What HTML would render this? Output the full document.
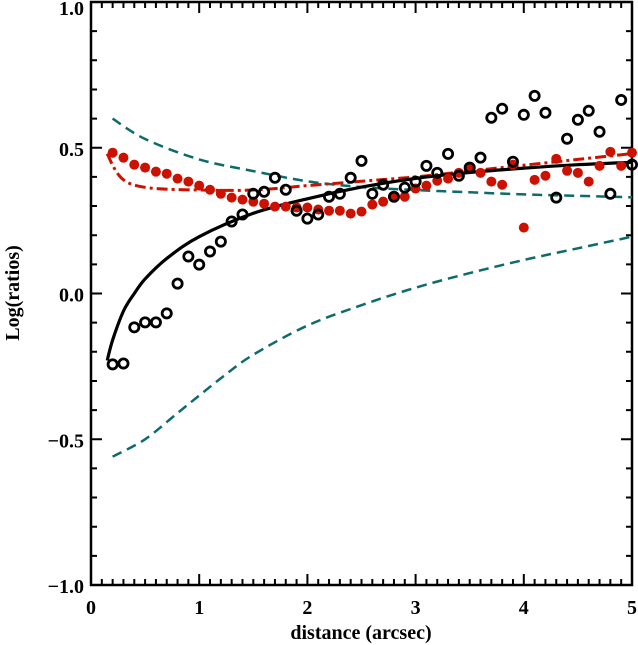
<!DOCTYPE html>
<html><head><meta charset="utf-8"><style>
body{margin:0;background:#fff}
svg{display:block}
text{font-family:"Liberation Serif",serif;font-size:20px;font-weight:bold;fill:#000}
</style></head><body>
<svg id="chart" width="638" height="645" xmlns="http://www.w3.org/2000/svg">
<g id="axes"></g>
<g id="series"></g>
<text x="361" y="639" text-anchor="middle">distance (arcsec)</text>
<text transform="translate(19,293) rotate(-90)" text-anchor="middle">Log(ratios)</text>
</svg>
<script>
const xTicks=[0,1,2,3,4,5];
const yTicks=[-1.0,-0.5,0.0,0.5,1.0];
const yTickLabels=["\u22121.0","\u22120.5","0.0","0.5","1.0"];
const pointX=[0.2,0.3,0.4,0.5,0.6,0.7,0.8,0.9,1.0,1.1,1.2,1.3,1.4,1.5,1.6,1.7,1.8,1.9,2.0,2.1,2.2,2.3,2.4,2.5,2.6,2.7,2.8,2.9,3.0,3.1,3.2,3.3,3.4,3.5,3.6,3.7,3.8,3.9,4.0,4.1,4.2,4.3,4.4,4.5,4.6,4.7,4.8,4.9,5.0];
const blackObs=[-0.243,-0.240,-0.116,-0.099,-0.099,-0.068,0.034,0.127,0.099,0.144,0.178,0.247,0.271,0.342,0.349,0.397,0.356,0.284,0.257,0.271,0.332,0.342,0.397,0.455,0.342,0.373,0.332,0.363,0.384,0.438,0.414,0.479,0.404,0.432,0.466,0.603,0.634,0.452,0.613,0.678,0.620,0.329,0.531,0.596,0.627,0.555,0.342,0.664,0.442];
const redObs=[0.483,0.466,0.442,0.432,0.418,0.411,0.394,0.384,0.370,0.356,0.342,0.329,0.322,0.315,0.308,0.298,0.298,0.295,0.295,0.288,0.284,0.284,0.274,0.281,0.305,0.315,0.332,0.332,0.360,0.370,0.387,0.394,0.414,0.428,0.414,0.384,0.373,0.442,0.226,0.390,0.404,0.462,0.421,0.414,0.384,0.438,0.486,0.438,0.483];
const fitX=[0.15,0.2,0.3,0.4,0.5,0.7,1.0,1.5,2.0,2.5,3.0,3.5,4.0,4.5,5.0];
const fitY=[-0.23,-0.16,-0.06,0.0,0.05,0.12,0.195,0.275,0.325,0.365,0.395,0.415,0.43,0.442,0.45];
const redFitX=[0.15,0.2,0.25,0.3,0.4,0.6,1.0,1.5,2.0,2.5,3.0,3.5,4.0,4.5,5.0];
const redFitY=[0.48,0.44,0.41,0.39,0.372,0.36,0.355,0.355,0.37,0.385,0.40,0.42,0.44,0.46,0.48];
const upX=[0.2,0.5,1.0,1.5,2.0,2.5,3.0,3.5,4.0,4.5,5.0];
const upY=[0.60,0.53,0.46,0.42,0.385,0.365,0.355,0.347,0.34,0.335,0.33];
const loX=[0.2,0.5,0.8,1.0,1.22,1.5,2.0,2.5,3.0,3.5,4.0,4.5,5.0];
const loY=[-0.56,-0.5,-0.41,-0.35,-0.285,-0.21,-0.11,-0.04,0.02,0.07,0.115,0.155,0.195];

const X0=91,X1=632,Y0=585,Y1=2;
const sx=v=>X0+(X1-X0)*v/5;
const sy=v=>Y0-(Y0-Y1)*(v+1)/2;
const NS='http://www.w3.org/2000/svg';
const axes=document.getElementById('axes'),ser=document.getElementById('series');
function mk(tag,attrs,parent){const e=document.createElementNS(NS,tag);for(const k in attrs)e.setAttribute(k,attrs[k]);parent.appendChild(e);return e;}
let fr=mk('rect',{x:X0,y:Y1,width:X1-X0,height:Y0-Y1,fill:'none',stroke:'#000','stroke-width':2.5},axes);


let td='';
for(let i=0;i<=50;i++){const x=sx(i/10);const L=i%10===0?11:6;td+=`M${x},${Y0}v${-L}M${x},${Y1}v${L}`;}
for(let i=0;i<=20;i++){const y=sy(-1+i/10);const L=i%5===0?11:6;td+=`M${X0},${y}h${L}M${X1},${y}h${-L}`;}
let tk=mk('path',{d:td,stroke:'#000','stroke-width':2,fill:'none'},axes);


xTicks.forEach(v=>{const t=mk('text',{x:sx(v),y:614,'text-anchor':'middle'},axes);t.textContent=String(v);

});
yTicks.forEach((v,i)=>{const t=mk('text',{x:84,y:Math.max(sy(v)+8,15),'text-anchor':'end'},axes);t.textContent=yTickLabels[i];

});
function line(xs,ys,attrs,name){
const P=xs.map((x,i)=>[sx(x),sy(ys[i])]);
let d='M'+P[0][0].toFixed(1)+','+P[0][1].toFixed(1);
for(let i=0;i<P.length-1;i++){const p0=P[Math.max(i-1,0)],p1=P[i],p2=P[i+1],p3=P[Math.min(i+2,P.length-1)];
const c1=[p1[0]+(p2[0]-p0[0])/6,p1[1]+(p2[1]-p0[1])/6],c2=[p2[0]-(p3[0]-p1[0])/6,p2[1]-(p3[1]-p1[1])/6];
d+=`C${c1[0].toFixed(1)},${c1[1].toFixed(1)} ${c2[0].toFixed(1)},${c2[1].toFixed(1)} ${p2[0].toFixed(1)},${p2[1].toFixed(1)}`;}
const p=mk('path',Object.assign({d:d,fill:'none'},attrs),ser);

}
line(upX,upY,{stroke:'#0d6b6b','stroke-width':2.5,'stroke-dasharray':'10,6'},'upper-dashed-curve');
line(loX,loY,{stroke:'#0d6b6b','stroke-width':2.5,'stroke-dasharray':'10,6'},'lower-dashed-curve');
line(redFitX,redFitY,{stroke:'#cc1100','stroke-width':3,'stroke-dasharray':'11,4,3,4'},'red-dashdot-fit');
line(fitX,fitY,{stroke:'#000','stroke-width':3.2},'black-solid-fit');
pointX.forEach((x,i)=>{const c=mk('circle',{cx:sx(x),cy:sy(redObs[i]),r:5,fill:'#cc1100'},ser);

});
pointX.forEach((x,i)=>{const c=mk('circle',{cx:sx(x),cy:sy(blackObs[i]),r:4.6,fill:'none',stroke:'#000','stroke-width':2.8},ser);

});
</script>
</body></html>
